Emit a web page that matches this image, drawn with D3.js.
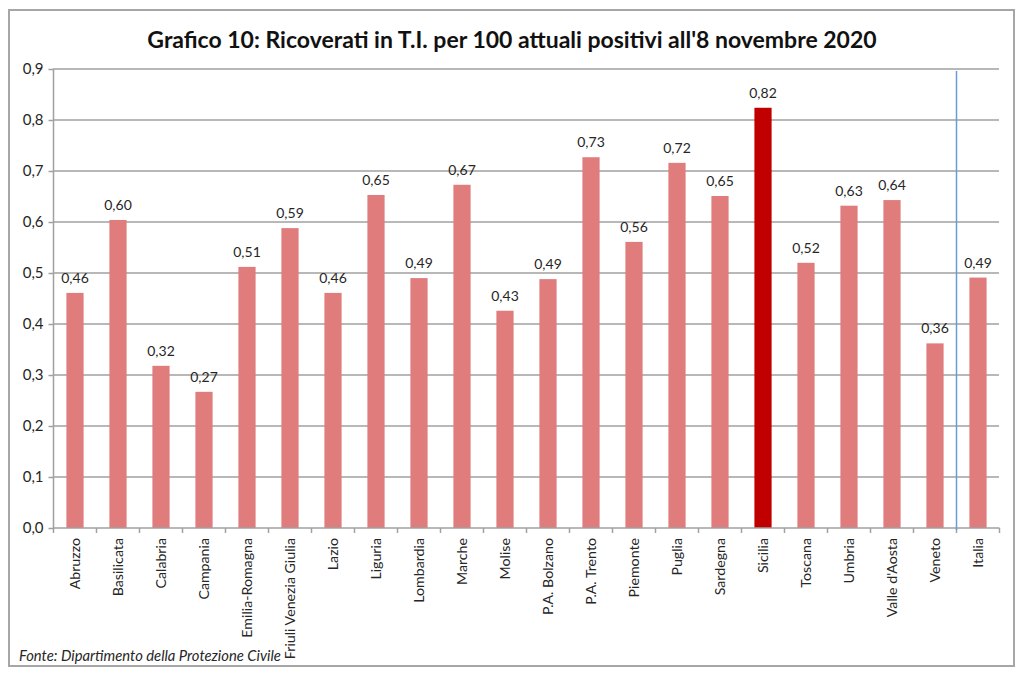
<!DOCTYPE html>
<html><head><meta charset="utf-8">
<script src="https://cdn.jsdelivr.net/npm/d3@7/dist/d3.min.js"></script>
<style>body{margin:0;background:#fff;} svg{display:block;font-family:Lato,"Open Sans",sans-serif;}</style>
</head><body>
<svg id="c" width="1024" height="678"></svg>
<script>
const regions = ["Abruzzo","Basilicata","Calabria","Campania","Emilia-Romagna","Friuli Venezia Giulia","Lazio","Liguria","Lombardia","Marche","Molise","P.A. Bolzano","P.A. Trento","Piemonte","Puglia","Sardegna","Sicilia","Toscana","Umbria","Valle d'Aosta","Veneto","Italia"];
const values = [0.461,0.604,0.318,0.267,0.512,0.588,0.461,0.653,0.490,0.673,0.426,0.488,0.727,0.561,0.716,0.651,0.824,0.520,0.632,0.643,0.362,0.491];
const yTicks = [0,0.1,0.2,0.3,0.4,0.5,0.6,0.7,0.8,0.9];
const highlight = "Sicilia";
const title = "Grafico 10: Ricoverati in T.I. per 100 attuali positivi all'8 novembre 2020";
const source = "Fonte: Dipartimento della Protezione Civile";

const svg = d3.select("#c");
const fmt = v => d3.format(".2f")(v).replace(".", ",");
const fmt1 = v => d3.format(".1f")(v).replace(".", ",");
const txt = "#262626";

svg.append("rect").attr("x",9).attr("y",10).attr("width",1005).attr("height",656)
  .attr("fill","#fff").attr("stroke","#a6a6a6").attr("stroke-width",2);

const x = d3.scaleBand().domain(regions).range([53.5, 999.5]).paddingInner(0.6).paddingOuter(0.3);
const y = d3.scaleLinear().domain([0,0.9]).range([528, 69]);

// grid
svg.append("g").selectAll("line").data(yTicks.slice(1)).join("line")
  .attr("x1",53).attr("x2",999).attr("y1",d=>y(d)).attr("y2",d=>y(d))
  .attr("stroke","#a0a0a0").attr("stroke-width",1.5);

// y axis
const ya = svg.append("g").attr("transform","translate(53.5,0)")
  .call(d3.axisLeft(y).tickValues(yTicks).tickFormat(fmt1).tickSize(5).tickPadding(5));
ya.select(".domain").attr("stroke","#a0a0a0").attr("stroke-width",1.5).attr("d","M0,"+y(0)+"V"+y(0.9));
ya.selectAll(".tick line").attr("stroke","#a0a0a0").attr("stroke-width",1.5);
ya.selectAll("text").attr("font-size",15).attr("fill",txt).attr("font-family","Lato,sans-serif");

// bars
svg.append("g").selectAll("rect").data(regions).join("rect")
  .attr("x",d=>x(d)).attr("width",x.bandwidth())
  .attr("y",(d,i)=>y(values[i])).attr("height",(d,i)=>y(0)-y(values[i]))
  .attr("fill",d=>d===highlight?"#c00000":"#e07c7c");

// value labels
svg.append("g").selectAll("text").data(regions).join("text")
  .attr("x",d=>x(d)+x.bandwidth()/2).attr("y",(d,i)=>y(values[i])-10)
  .attr("text-anchor","middle").attr("font-size",14).attr("fill",txt)
  .text((d,i)=>fmt(values[i]));

// x axis
const xb = d3.scaleLinear().domain([0,22]).range([53.5,999.5]);
const xa = svg.append("g").attr("transform","translate(0,"+y(0)+")");
xa.append("line").attr("x1",53.5).attr("x2",999.5).attr("stroke","#a0a0a0").attr("stroke-width",1.5);
xa.selectAll(".tk").data(d3.range(23)).join("line").attr("class","tk")
  .attr("x1",d=>xb(d)).attr("x2",d=>xb(d)).attr("y1",0).attr("y2",5)
  .attr("stroke","#a0a0a0").attr("stroke-width",1.5);
xa.selectAll(".lb").data(regions).join("text").attr("class","lb")
  .attr("transform",d=>"translate("+(x(d)+x.bandwidth()/2+5)+",10) rotate(-90)")
  .attr("text-anchor","end").attr("font-size",14.2).attr("fill",txt).text(d=>d);

// blue separator line
svg.append("line").attr("x1",xb(21)).attr("x2",xb(21)).attr("y1",71).attr("y2",y(0)+2)
  .attr("stroke","#6a9bd8").attr("stroke-width",1.5);

// title
svg.append("text").attr("x",512).attr("y",48).attr("text-anchor","middle")
  .attr("font-size",23).attr("font-weight","bold").attr("fill","#111").text(title);

// source
svg.append("text").attr("x",19).attr("y",661).attr("font-size",14.8).attr("font-style","italic")
  .attr("fill",txt).text(source);
</script>
</body></html>
